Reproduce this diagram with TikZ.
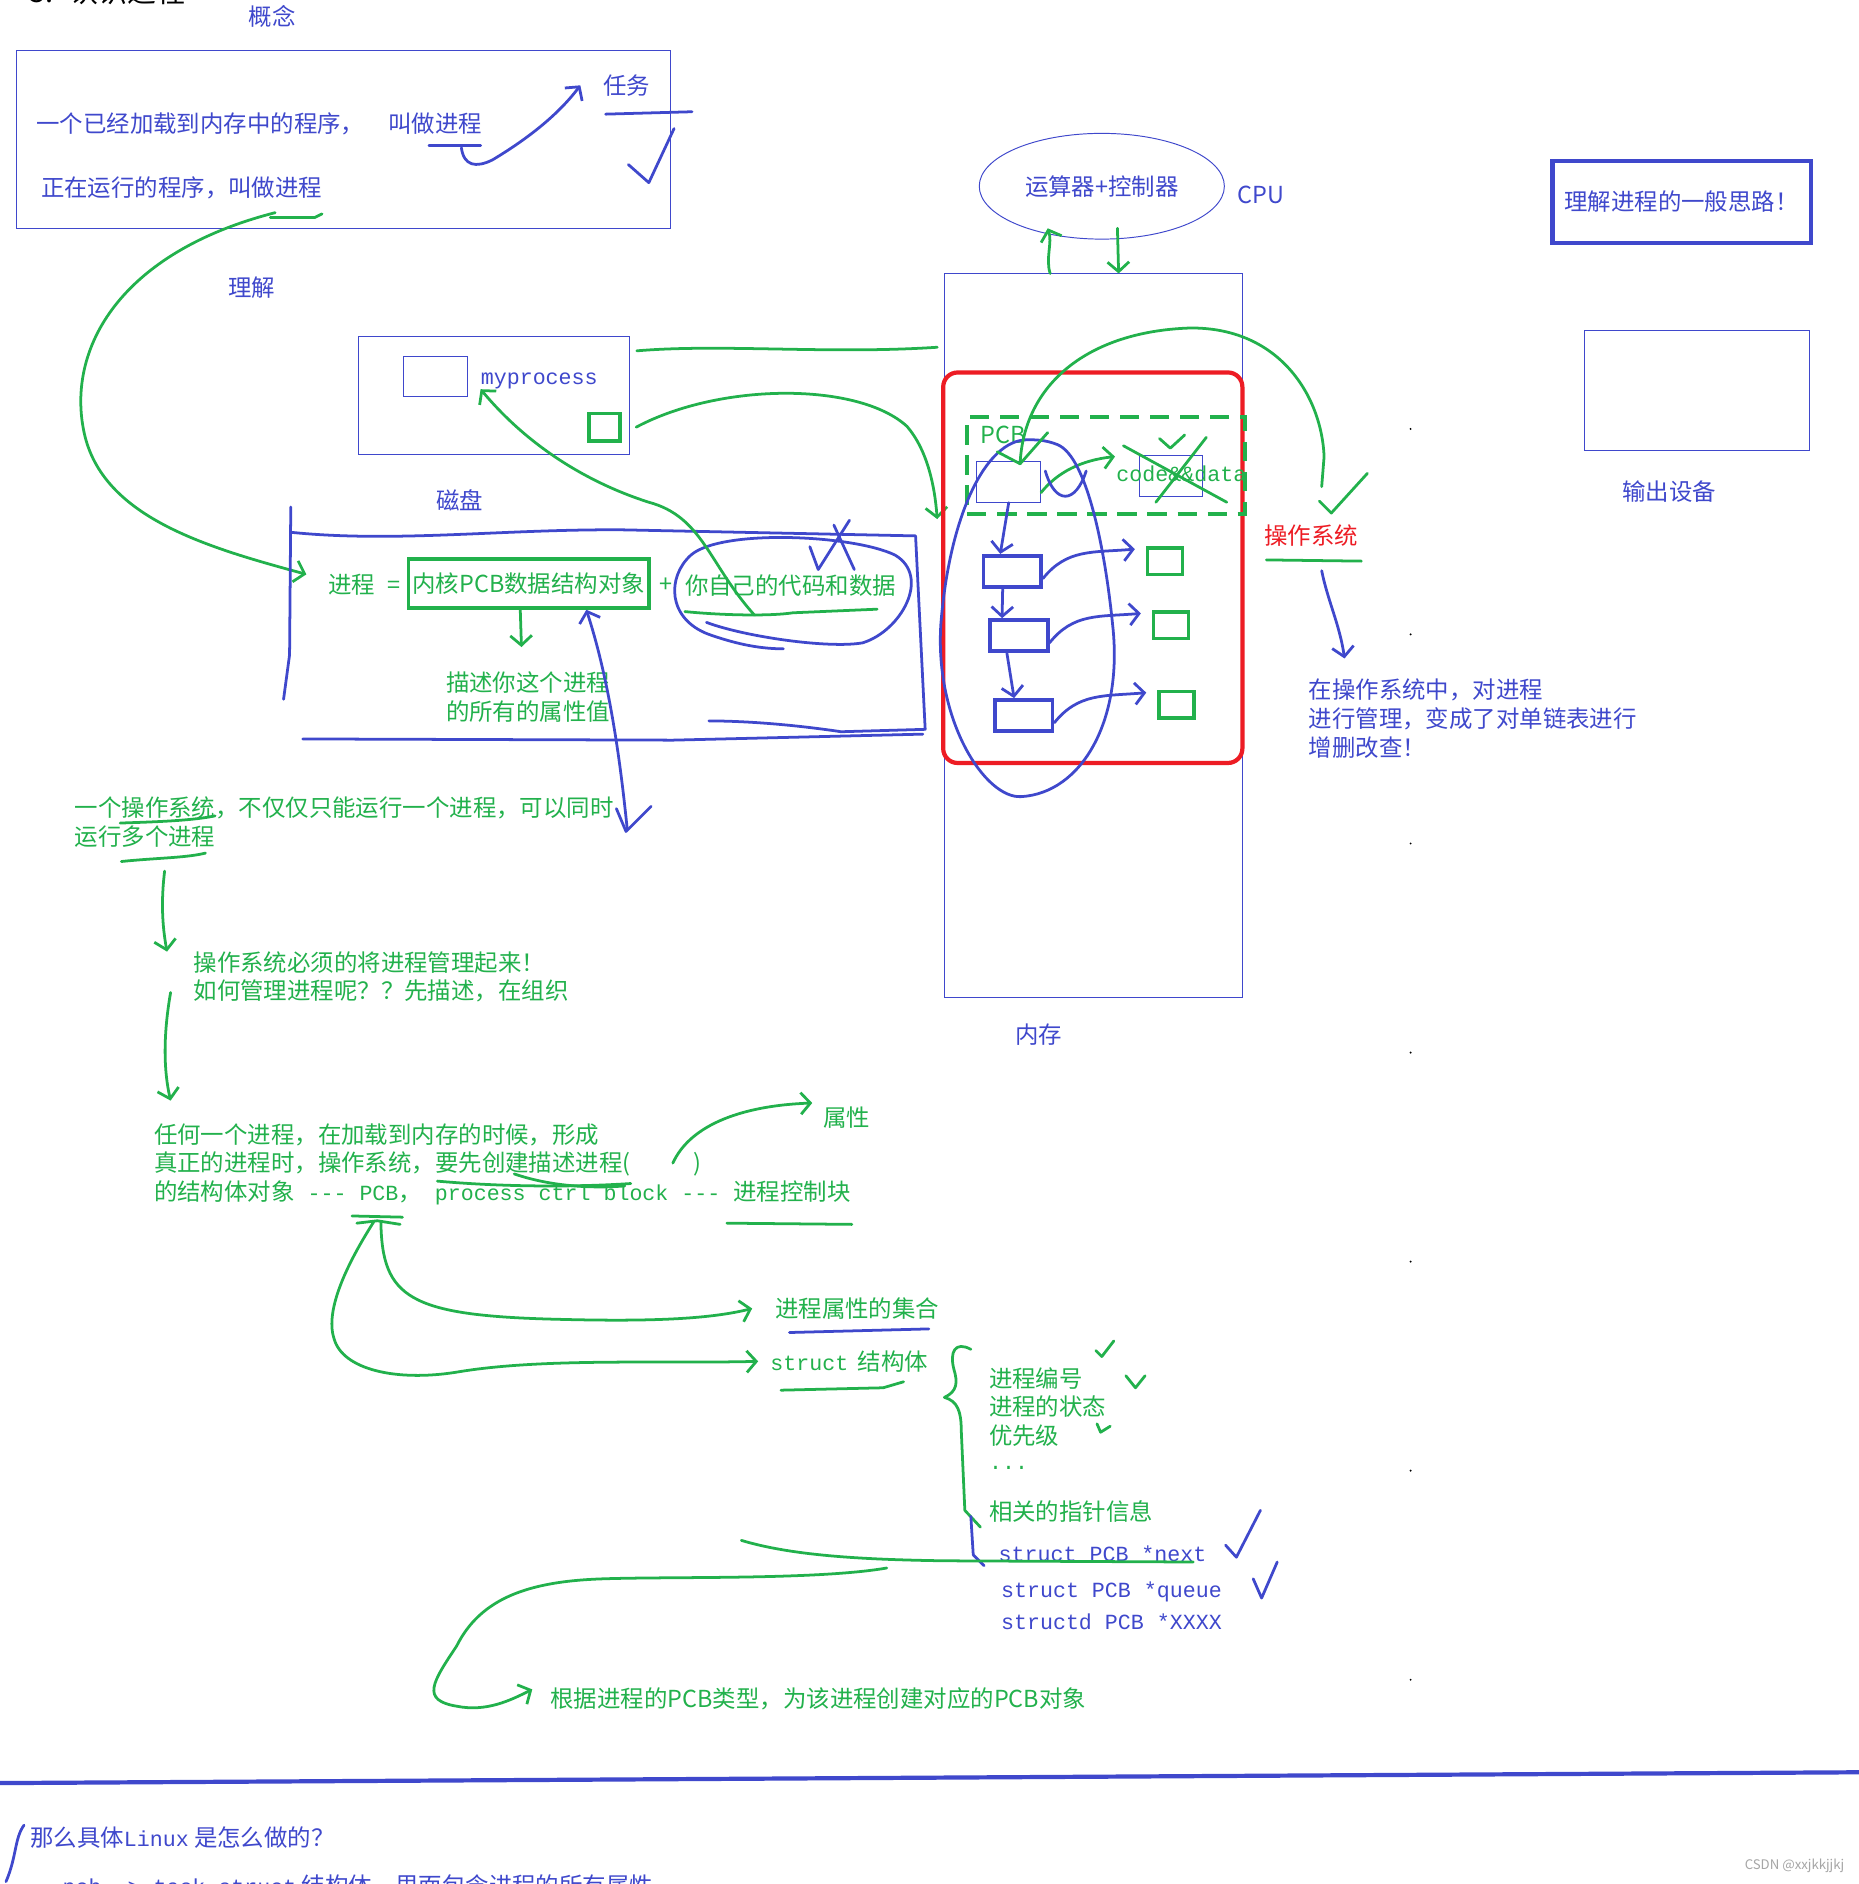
\documentclass[tikz,border=0pt]{standalone}
\usepackage{fontspec}
\setmainfont{Noto Sans CJK SC}
\newfontfamily\monof{Liberation Mono}
\usetikzlibrary{positioning}
\usetikzlibrary{arrows.meta,shapes.geometric}
\definecolor{penblue}{HTML}{3F48CC}
\definecolor{pengreen}{HTML}{22B14C}
\definecolor{penred}{HTML}{ED1C24}
\newcommand\mtxt[1]{{\monof\fontsize{18}{24}\selectfont #1}}

\begin{document}
\begin{tikzpicture}[x=1pt, y=-1pt,
  every node/.style={inner sep=0pt, font=\fontsize{19.5}{24}\selectfont},
  btxt/.style={text=penblue, anchor=west, align=left},
  gtxt/.style={text=pengreen, anchor=west, align=left},
  mono/.style={font=\monof\fontsize{18}{24}\selectfont},
  fbox/.style={draw=penblue, line width=0.8pt},
  gsq/.style={draw=pengreen, line width=3pt},
  bsq/.style={draw=penblue, line width=3pt, minimum width=48pt, minimum height=26pt},
  pen/.style={line width=2.3pt, line cap=round, line join=round},
  bpen/.style={pen, draw=penblue},
  gpen/.style={pen, draw=pengreen},
  barb/.style={-{Straight Barb[length=8pt, width=18pt]}}
  ]
\useasboundingbox (0,0) rectangle (1547,1568);
\fill[white] (0,0) rectangle (1547,1568);

% concept
\node[text=black, anchor=west, font=\fontsize{24}{28}\selectfont] (title) at (24,-7) {3.\hspace{14pt}认识进程};
\node[btxt] (concept) at (207,14) {概念};
\node[fbox, minimum width=544pt, minimum height=148pt] (defbox) at (286,116) {};
\node[btxt] (defa) at (30,103) {一个已经加载到内存中的程序，\hspace{20pt}叫做进程};
\node[btxt] (defb) at (34,156) {正在运行的程序，叫做进程};
\node[btxt] (task) at (502,71) {任务};
\draw[bpen] (357,121) -- (400,121);
\draw[bpen,barb] (384,123) .. controls (386,138) and (396,140) .. (410,133) .. controls (440,115) and (465,95) .. ([xshift=-19pt]task.west);
\draw[bpen] (504,95) -- (576,93);
\draw[bpen] (523,137) -- (540,152) -- (561,107);
\draw[gpen] (225,181) -- (262,181) -- (268,178);
\draw[gpen,barb] (229,177) .. controls (100,210) and (55,290) .. (70,360) .. controls (85,430) and (170,455) .. (255,478);
\node[btxt] (understand) at (190,239) {理解};

% disk
\node[fbox, minimum width=226pt, minimum height=98pt] (disk) at (411,329) {};
\node[fbox, minimum width=53pt, minimum height=33pt] (prog) at (362.5,313.5) {};
\node[btxt, mono] (myproc) at (400,317) {myprocess};
\node[gsq, minimum width=26pt, minimum height=23pt] (dsq) at (503,355.5) {};
\node[btxt] (diskname) at (363,416) {磁盘};
\draw[gpen] (530,292) .. controls (600,286) and (690,295) .. (780,289);
\draw[gpen,barb] ([xshift=12pt]dsq.east) .. controls (600,318) and (715,318) .. (755,355) .. controls (772,375) and (778,405) .. (780,432);

% process = pcb + code
\draw[bpen] (242,422) -- (241,545) -- (236,582);
\draw[bpen] (242,443) .. controls (330,452) and (420,440) .. (520,441) -- (762,446) -- (770,607) -- (700,609) .. controls (660,603) and (620,600) .. (590,600);
\draw[bpen] (252,615) -- (560,616) -- (768,611);
\node[gtxt] (proc) at (273,487) {进程\hspace{10pt}=};
\node[draw=pengreen, line width=3pt, minimum width=200pt, minimum height=41pt, text=pengreen] (pcbobj) at (440,485.5) {内核PCB数据结构对象};
\node[text=pengreen] (plus) at (554,487) {+};
\node[gtxt] (mine) at (570,487) {你自己的代码和数据};
\draw[gpen] (570,509) .. controls (600,512) and (640,513) .. (660,510) -- (730,507);
\draw[bpen] (588,518) .. controls (620,530) and (690,540) .. (718,535) .. controls (750,525) and (775,480) .. (745,462) .. controls (710,445) and (600,440) .. (575,462) .. controls (555,480) and (555,515) .. (590,528) .. controls (610,535) and (630,540) .. (652,540);
\draw[bpen] (694,437) -- (711,474);
\draw[bpen] (707,433) -- (681,474) -- (674,455);
\draw[gpen,barb] ([xshift=-7pt]pcbobj.south) -- ++(1,31);
\node[gtxt] (desc) at (371,580) {描述你这个进程\\的所有的属性值};
\draw[bpen,barb] (522,690) .. controls (515,620) and (505,560) .. ([xshift=48pt]pcbobj.south);
\draw[bpen] (513,673) -- (521,692) -- (542,671);
\draw[gpen,barb] (628,512) .. controls (590,470) and (585,430) .. (540,418) .. controls (490,402) and (440,372) .. (myproc.south west);

% cpu and memory
\node[draw=penblue, line width=0.8pt, ellipse, minimum width=204pt, minimum height=88pt, text=penblue] (cpu) at (917,155) {运算器+控制器};
\node[btxt] (cpuname) at (1030,162) {CPU};
\node[fbox, minimum width=248pt, minimum height=602pt] (mem) at (910,529) {};
\node[btxt] (memname) at (845,861) {内存};
\draw[gpen,barb] ([xshift=-36pt]mem.north) .. controls (870,215) and (876,202) .. (872,190);
\draw[gpen,barb] (930,190) -- ([xshift=21pt]mem.north);
\node[draw=penred, line width=3.5pt, rounded corners=12pt, minimum width=249pt, minimum height=325pt] (os) at (909.5,472.5) {};
\node[draw=pengreen, line width=3pt, dash pattern=on 16pt off 9pt, minimum width=231pt, minimum height=81pt] (pcbzone) at (920.5,387.5) {};
\node[gtxt] (pcblbl) at (816,362) {PCB};
\node[fbox, minimum width=53pt, minimum height=34pt] (pcbin) at (839.5,401) {};
\node[fbox, minimum width=53pt, minimum height=34pt] (cdin) at (974.5,396) {};
\node[gtxt, mono] (cdlbl) at (929,394) {code\&\&data};
\draw[gpen] (935,371) -- (1021,418);
\draw[gpen] (1004,364) -- (962,418);
\draw[gpen] (965,365) -- (974,373) -- (986,362);
\draw[gpen,barb] ([yshift=-9pt]pcbin.east) .. controls (880,393) and (900,383) .. (928,380);

\node[bsq] (l1) at (842.5,475.5) {};
\node[bsq] (l2) at (848,529) {};
\node[bsq] (l3) at (852,595.5) {};
\node[gsq, minimum width=29pt, minimum height=22pt] (s1) at (969.5,467) {};
\node[gsq, minimum width=29pt, minimum height=22pt] (s2) at (974.5,520.5) {};
\node[gsq, minimum width=29pt, minimum height=22pt] (s3) at (979,586.5) {};
\draw[bpen,barb] (pcbin.south) -- ([xshift=-10pt]l1.north);
\draw[bpen,barb] ([xshift=-8pt]l1.south) -- ([xshift=-14pt]l2.north);
\draw[bpen,barb] ([xshift=-10pt]l2.south) -- ([xshift=-8pt]l3.north);
\draw[bpen,barb] ([yshift=-6pt]l1.east) .. controls +(20,-25) and +(-35,3) .. ([xshift=-9pt,yshift=10pt]s1.west);
\draw[bpen,barb] ([yshift=-6pt]l2.east) .. controls +(20,-25) and +(-35,3) .. ([xshift=-9pt,yshift=10pt]s2.west);
\draw[bpen,barb] ([yshift=-6pt]l3.east) .. controls +(20,-25) and +(-35,3) .. ([xshift=-9pt,yshift=10pt]s3.west);
\draw[bpen] (855,366) .. controls (820,366) and (790,430) .. (783,520) .. controls (778,600) and (820,665) .. (850,663) .. controls (900,660) and (935,600) .. (926,520) .. controls (920,460) and (905,380) .. (880,370) .. controls (870,366) and (862,366) .. (855,366);
\draw[bpen] (870,392) .. controls (878,420) and (895,420) .. (904,392);
\draw[gpen] (849,386) .. controls (852,320) and (905,276) .. (990,273) .. controls (1065,272) and (1100,330) .. (1102,380) -- (1100,405);
\draw[gpen] (830,376) -- (849,386) -- (872,360);
\draw[gpen] (1098,417) -- (1108,427) -- (1138,394);

% operating system
\node[text=penred, anchor=west] (osname) at (1052,446) {操作系统};
\draw[gpen] (1054,466) -- (1133,467);
\draw[bpen,barb] (1100,475) .. controls (1105,500) and (1115,520) .. (1119,548);
\node[btxt] (osnote) at (1089,598) {在操作系统中，对进程\\进行管理，变成了对单链表进行\\增删改查！};
\node[draw=penblue, line width=3.5pt, minimum width=215pt, minimum height=68pt, text=penblue] (idea) at (1399.5,168) {理解进程的一般思路！};
\node[fbox, minimum width=187pt, minimum height=100pt] (outdev) at (1412.5,325) {};
\node[btxt] (outname) at (1350,409) {输出设备};
\foreach \y in {357,528,702,876,1050,1224,1398}
  \fill (1174,\y) circle (0.9pt);

% describe, then organize
\node[gtxt] (multi) at (62,684) {一个操作系统，不仅仅只能运行一个进程，可以同时\\运行多个进程};
\draw[gpen] (100,685) .. controls (130,684) and (160,683) .. (179,679);
\draw[gpen] (101,717) .. controls (130,714) and (155,714) .. (171,710);
\draw[gpen,barb] (137,725) .. controls (134,750) and (135,770) .. (139,792);
\node[gtxt] (manage) at (161,813) {操作系统必须的将进程管理起来！\\如何管理进程呢？？先描述，在组织};
\draw[gpen,barb] (142,826) .. controls (136,860) and (136,890) .. (142,916);
\node[gtxt] (every) at (128,969) {任何一个进程，在加载到内存的时候，形成\\真正的进程时，操作系统，要先创建描述进程(\hspace{52pt})\\的结构体对象\mtxt{\ ---\ PCB}，\mtxt{\ process ctrl block ---\ }进程控制块};
\draw[gpen] (364,983) .. controls (420,988) and (480,988) .. (525,985);
\draw[gpen] (428,977) .. controls (460,988) and (495,989) .. (520,987);
\draw[gpen,barb] (560,968) .. controls (575,935) and (620,920) .. (676,918);
\node[gtxt] (attr) at (685,930) {属性};
\draw[gpen] (605,1018) -- (709,1019);

% pcb = struct
\draw[gpen] (293,1012) -- (335,1013);
\draw[gpen] (297,1018) -- (314,1016) -- (333,1019);
\node[gtxt] (set) at (645,1089) {进程属性的集合};
\node[gtxt] (struct) at (641,1133) {\mtxt{struct}\hspace{8pt}结构体};
\draw[gpen,barb] (317,1017) .. controls (318,1080) and (340,1095) .. (464,1098) .. controls (540,1100) and (590,1098) .. ([xshift=-19pt]set.west);
\draw[gpen,barb] (311,1017) .. controls (290,1050) and (270,1090) .. (278,1114) .. controls (285,1140) and (330,1150) .. (380,1142) .. controls (450,1130) and (550,1135) .. ([xshift=-10pt]struct.west);
\draw[bpen] (657,1109) -- (773,1106);
\draw[gpen] (650,1157) -- (735,1155) -- (752,1150);
\draw[gpen] (808,1123) .. controls (795,1116) and (790,1125) .. (794,1140) .. controls (797,1150) and (797,1158) .. (786,1163) .. controls (797,1166) and (800,1175) .. (800,1190) -- (803,1257) -- (816,1271);
\draw[bpen] (808,1262) -- (810,1294) -- (819,1303);
\node[gtxt] (fields) at (823,1171) {进程编号\\进程的状态\\优先级};
\node[gtxt, mono] (more) at (823,1222) {...};
\node[gtxt] (ptrs) at (823,1258) {相关的指针信息};
\draw[gpen] (912,1124) -- (917,1129) -- (927,1116);
\draw[gpen] (937,1145) -- (945,1155) -- (953,1145);
\draw[gpen] (913,1185) -- (916,1192) -- (924,1187);
\node[btxt, mono] (pnext) at (831,1293) {struct PCB *next};
\node[btxt, mono] (pqueue) at (833,1325) {struct PCB *queue};
\node[btxt, mono] (pxxxx) at (833,1350) {structd PCB *XXXX};
\draw[bpen] (1020,1286) -- (1029,1296) -- (1049,1257);
\draw[bpen] (1043,1314) -- (1050,1330) -- (1063,1300);
\draw[gpen] (617,1282) .. controls (660,1295) and (720,1298) .. (786,1299) -- (993,1300);
\node[gtxt] (create) at (458,1414) {根据进程的PCB类型，为该进程创建对应的PCB对象};
\draw[gpen,barb] (738,1305) .. controls (680,1315) and (560,1312) .. (502,1314) .. controls (440,1316) and (400,1330) .. (380,1370) .. controls (360,1400) and (350,1415) .. (380,1420) .. controls (405,1425) and (425,1415) .. ([xshift=-15pt,yshift=8pt]create.west);

% linux
\draw[line width=3.5pt, penblue] (0,1484) -- (1547,1475);
\draw[bpen] (20,1519) .. controls (12,1530) and (14,1545) .. (5,1566);
\node[btxt] (linux) at (25,1529) {那么具体\mtxt{Linux} 是怎么做的？};
\node[btxt] (taskst) at (52,1570) {\mtxt{pcb -> task\_struct} 结构体，里面包含进程的所有属性};
\node[text=gray!70, anchor=east, font=\fontsize{11}{12}\selectfont] (mark) at (1535,1553) {CSDN @xxjkkjjkj};
\end{tikzpicture}
\end{document}
